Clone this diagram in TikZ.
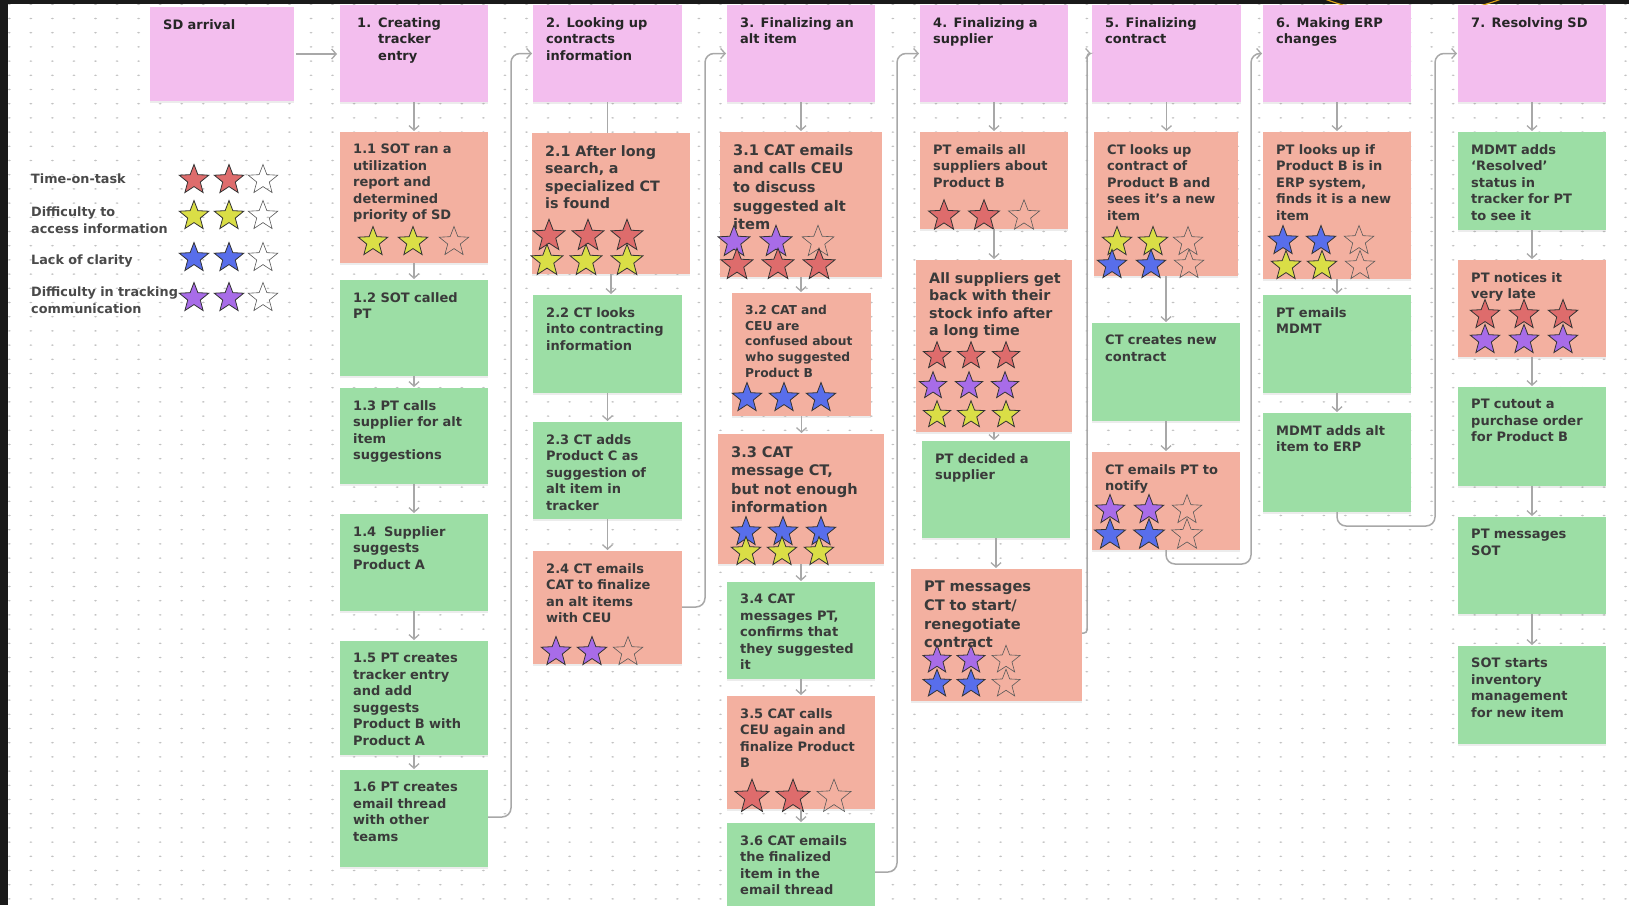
\documentclass[tikz,border=0pt]{standalone}
\usepackage{fontspec}
\setmainfont{DejaVu Sans}
\usetikzlibrary{arrows.meta,shadows}
\definecolor{pinkc}{HTML}{F3BEEE}
\definecolor{salc}{HTML}{F3B0A0}
\definecolor{grnc}{HTML}{9CDEA5}
\definecolor{txtc}{HTML}{3A3A3A}
\definecolor{legc}{HTML}{4A4A4A}
\definecolor{arrc}{HTML}{A8A8A8}
\definecolor{dotc}{HTML}{C2C2C2}
\definecolor{starr}{HTML}{DE6C6C}
\definecolor{stary}{HTML}{DADE46}
\definecolor{starb}{HTML}{586EEB}
\definecolor{starp}{HTML}{A86CE8}
\definecolor{darkc}{HTML}{1A1A1A}
\definecolor{ylw}{HTML}{D9A21B}

\newcommand\card[8]{%
  \node[box, fill=#6, minimum width={(#4-#2)*1pt}, minimum height={(#5-#3)*1pt}] (#1) at ({(#2+#4)/2},{(#3+#5)/2}) {};
  \node[#7] (#1t) at ([xshift=13pt,yshift=-12pt]#1.north west) {#8};
}
\newcommand\st[4][1]{\path[st#4,shift={(#2,#3)},scale=#1] (270:15.5)--(306:6.6)--(342:15.5)--(18:6.6)--(54:15.5)--(90:6.6)--(126:15.5)--(162:6.6)--(198:15.5)--(234:6.6)--cycle;}
\newcommand\dn[2]{\draw[arr] (#1.south) -- (#1.south |- #2.north);}

\begin{document}
\begin{tikzpicture}[x=1pt,y=-1pt,
  box/.style={draw=none, inner sep=0, outer sep=0, drop shadow={shadow xshift=0pt, shadow yshift=-2pt, opacity=0.15}},
  tn/.style={inner sep=0, text width=150pt, align=left, anchor=north west, text=txtc, font=\bfseries\fontsize{13}{16.5}\selectfont},
  tm/.style={tn, font=\bfseries\fontsize{14.3}{17.6}\selectfont},
  tl/.style={tn, font=\bfseries\fontsize{14.6}{18.6}\selectfont},
  ts/.style={tn, font=\bfseries\fontsize{12.3}{15.7}\selectfont},
  th/.style={tn, text=black!85},
  lgt/.style={inner sep=0, text width=160pt, align=left, anchor=north west, text=legc, font=\bfseries\fontsize{12.8}{16.5}\selectfont},
  str/.style={fill=starr, draw=black!80, line width=0.8pt, line join=miter},
  sty/.style={fill=stary, draw=black!80, line width=0.8pt, line join=miter},
  stb/.style={fill=starb, draw=black!80, line width=0.8pt, line join=miter},
  stp/.style={fill=starp, draw=black!80, line width=0.8pt, line join=miter},
  ste/.style={draw=black!65, line width=0.6pt, line join=miter},
  arr/.style={draw=arrc, line width=1.5pt, shorten >=1pt, -{Straight Barb[length=4.5pt,width=10pt,line width=1.3pt]}},
  ln/.style={draw=arrc, line width=1.5pt}
]
\useasboundingbox (0,0) rectangle (1629,905);
\fill[white] (0,0) rectangle (1629,905);
\foreach \i in {0,...,75} {\foreach \j in {0,...,63} {\fill[dotc] ({9.3+21.55*\i},{4.3+14.2*\j}) ellipse (1.5 and 0.8);}}
\fill[darkc] (0,0) rectangle (1629,4);
\fill[darkc] (0,0) rectangle (7.5,905);
\begin{scope}
\clip (0,0) rectangle (1629,4.5);
\draw[ylw, line width=1.2pt] (1413,-235) circle (250);
\end{scope}

% legend
\node[lgt] (lg1) at (31,174) {Time-on-task};
\node[lgt] (lg2) at (31,207) {Difficulty to\\access information};
\node[lgt] (lg3) at (31,255) {Lack of clarity};
\node[lgt] (lg4) at (31,287) {Difficulty in tracking\\communication};
\st{194}{180}{r}\st{229}{180}{r}\st{263}{180}{e}
\st{194}{216}{y}\st{229}{216}{y}\st{263}{216}{e}
\st{194}{258}{b}\st{229}{258}{b}\st{263}{258}{e}
\st{194}{298}{p}\st{229}{298}{p}\st{263}{298}{e}

% headers
\card{sd}{150}{7}{294}{101}{pinkc}{th}{SD arrival}
\card{h1}{340}{5}{488}{102}{pinkc}{th}{\hspace*{4pt}\makebox[21pt][l]{1.}Creating\\\hspace*{25pt}tracker\\\hspace*{25pt}entry}
\card{h2}{533}{5}{682}{102}{pinkc}{th}{2. Looking up\\contracts\\information}
\card{h3}{727}{5}{875}{102}{pinkc}{th}{3. Finalizing an\\alt item}
\card{h4}{920}{5}{1068}{102}{pinkc}{th}{4. Finalizing a\\supplier}
\card{h5}{1092}{5}{1241}{102}{pinkc}{th}{5. Finalizing\\contract}
\card{h6}{1263}{5}{1411}{102}{pinkc}{th}{6. Making ERP\\changes}
\card{h7}{1458}{5}{1606}{102}{pinkc}{th}{7. Resolving SD}

% column 1
\card{c11}{340}{132}{488}{263}{salc}{tn}{1.1 SOT ran a\\utilization\\report and\\determined\\priority of SD}
\card{c12}{340}{280}{488}{376}{grnc}{tn}{1.2 SOT called\\PT}
\card{c13}{340}{388}{488}{484}{grnc}{tn}{1.3 PT calls\\supplier for alt\\item\\suggestions}
\card{c14}{340}{514}{488}{611}{grnc}{tn}{1.4\hspace{0.6em}Supplier\\suggests\\Product A}
\card{c15}{340}{641}{488}{755}{grnc}{tn}{1.5 PT creates\\tracker entry\\and add\\suggests\\Product B with\\Product A}
\card{c16}{340}{770}{488}{867}{grnc}{tn}{1.6 PT creates\\email thread\\with other\\teams}
\st{373}{242}{y}\st{413}{242}{y}\st{454}{242}{e}

% column 2
\card{c21}{532}{133}{690}{274}{salc}{tm}{2.1 After long\\search, a\\specialized CT\\is found}
\card{c22}{533}{295}{682}{393}{grnc}{tn}{2.2 CT looks\\into contracting\\information}
\card{c23}{533}{422}{682}{519}{grnc}{tn}{2.3 CT adds\\Product C as\\suggestion of\\alt item in\\tracker}
\card{c24}{533}{551}{682}{664}{salc}{tn}{2.4 CT emails\\CAT to finalize\\an alt items\\with CEU}
\st[1.08]{549}{236}{r}\st[1.08]{588}{236}{r}\st[1.08]{627}{236}{r}
\st[1.08]{547}{261}{y}\st[1.08]{586}{261}{y}\st[1.08]{627}{261}{y}
\st{556}{652}{p}\st{592}{652}{p}\st{628}{652}{e}

% column 3
\card{c31}{720}{132}{882}{277}{salc}{tl}{3.1 CAT emails\\and calls CEU\\to discuss\\suggested alt\\item}
\card{c32}{732}{293}{871}{416}{salc}{ts}{3.2 CAT and\\CEU are\\confused about\\who suggested\\Product B}
\card{c33}{718}{434}{884}{564}{salc}{tl}{3.3 CAT\\message CT,\\but not enough\\information}
\card{c34}{727}{582}{875}{679}{grnc}{tn}{3.4 CAT\\messages PT,\\confirms that\\they suggested\\it}
\card{c35}{727}{696}{875}{809}{salc}{tn}{3.5 CAT calls\\CEU again and\\finalize Product\\B}
\card{c36}{727}{823}{875}{915}{grnc}{tn}{3.6 CAT emails\\the finalized\\item in the\\email thread}
\st[1.08]{734}{242}{p}\st[1.08]{776}{242}{p}\st[1.08]{818}{242}{e}
\st[1.08]{737}{265}{r}\st[1.08]{778}{265}{r}\st[1.08]{819}{265}{r}
\st{747}{398}{b}\st{784}{398}{b}\st{821}{398}{b}
\st{746}{532}{b}\st{783}{532}{b}\st{821}{532}{b}
\st{746}{552}{y}\st{782}{552}{y}\st{819}{552}{y}
\st[1.15]{752}{797}{r}\st[1.15]{793}{797}{r}\st[1.15]{834}{797}{e}

% column 4
\card{c41}{920}{132}{1068}{229}{salc}{tn}{PT emails all\\suppliers about\\Product B}
\card{c42}{916}{260}{1072}{432}{salc}{tm}{All suppliers get\\back with their\\stock info after\\a long time}
\card{c43}{922}{441}{1070}{538}{grnc}{tn}{PT decided a\\supplier}
\card{c44}{911}{569}{1082}{701}{salc}{tl}{PT messages\\CT to start/\\renegotiate\\contract}
\st[1.05]{944}{216}{r}\st[1.05]{984}{216}{r}\st[1.05]{1024}{216}{e}
\st[0.92]{937}{356}{r}\st[0.92]{971}{356}{r}\st[0.92]{1006}{356}{r}
\st[0.92]{933}{386}{p}\st[0.92]{969}{386}{p}\st[0.92]{1005}{386}{p}
\st[0.92]{937}{415}{y}\st[0.92]{971}{415}{y}\st[0.92]{1006}{415}{y}
\st[0.95]{937}{660}{p}\st[0.95]{971}{660}{p}\st[0.95]{1006}{660}{e}
\st[0.95]{937}{684}{b}\st[0.95]{971}{684}{b}\st[0.95]{1006}{684}{e}

% column 5
\card{c51}{1094}{132}{1238}{276}{salc}{tn}{CT looks up\\contract of\\Product B and\\sees it’s a new\\item}
\card{c52}{1092}{323}{1240}{421}{grnc}{tn}{CT creates new\\contract}
\card{c53}{1092}{452}{1240}{550}{salc}{tn}{CT emails PT to\\notify}
\st{1117}{242}{y}\st{1153}{242}{y}\st{1188}{242}{e}
\st{1112}{265}{b}\st{1151}{265}{b}\st{1189}{265}{e}
\st{1110}{510}{p}\st{1149}{510}{p}\st{1187}{510}{e}
\st[1.05]{1110}{535}{b}\st[1.05]{1149}{535}{b}\st[1.05]{1187}{535}{e}

% column 6
\card{c61}{1263}{132}{1411}{279}{salc}{tn}{PT looks up if\\Product B is in\\ERP system,\\finds it is a new\\item}
\card{c62}{1263}{295}{1411}{393}{grnc}{tn}{PT emails\\MDMT}
\card{c63}{1263}{413}{1411}{512}{grnc}{tn}{MDMT adds alt\\item to ERP}
\st{1283}{241}{b}\st{1321}{241}{b}\st{1359}{241}{e}
\st{1286}{266}{y}\st{1322}{266}{y}\st{1360}{266}{e}

% column 7
\card{c71}{1458}{132}{1606}{230}{grnc}{tn}{MDMT adds\\‘Resolved’\\status in\\tracker for PT\\to see it}
\card{c72}{1458}{260}{1606}{357}{salc}{tn}{PT notices it\\very late}
\card{c73}{1458}{387}{1606}{486}{grnc}{tn}{PT cutout a\\purchase order\\for Product B}
\card{c74}{1458}{517}{1606}{614}{grnc}{tn}{PT messages\\SOT}
\card{c75}{1458}{646}{1606}{744}{grnc}{tn}{SOT starts\\inventory\\management\\for new item}
\st{1485}{315}{r}\st{1524}{315}{r}\st{1563}{315}{r}
\st{1485}{340}{p}\st{1524}{340}{p}\st{1563}{340}{p}

% vertical connectors
\draw[arr] ([xshift=2pt]sd.east) -- ([xshift=-2pt]h1.west |- sd.east);
\dn{h1}{c11}\dn{c11}{c12}\dn{c12}{c13}\dn{c13}{c14}\dn{c14}{c15}\dn{c15}{c16}
\draw[ln] (h2.south) -- (h2.south |- c21.north);
\dn{c21}{c22}\dn{c22}{c23}\dn{c23}{c24}
\dn{h3}{c31}\dn{c31}{c32}\dn{c32}{c33}\dn{c33}{c34}\dn{c34}{c35}\dn{c35}{c36}
\dn{h4}{c41}\dn{c41}{c42}\dn{c42}{c43}\dn{c43}{c44}
\dn{h5}{c51}\dn{c51}{c52}\dn{c52}{c53}
\dn{h6}{c61}\dn{c61}{c62}\dn{c62}{c63}
\dn{h7}{c71}\dn{c71}{c72}\dn{c72}{c73}\dn{c73}{c74}\dn{c74}{c75}

% column-to-column connectors
\coordinate (k1) at (511,817);
\coordinate (k2) at (705,607);
\coordinate (k3) at (897,872);
\coordinate (k4) at (1087,633);
\coordinate (k5a) at (1166,564);
\coordinate (k5b) at (1251,564);
\coordinate (k6a) at (1337,526);
\coordinate (k6b) at (1435,526);
\draw[arr, rounded corners=9pt] (c16.east |- k1) -- (k1) -- (k1 |- h2.west) -- (h2.west);
\draw[arr, rounded corners=9pt] (c24.east |- k2) -- (k2) -- (k2 |- h3.west) -- (h3.west);
\draw[arr, rounded corners=9pt] (c36.east |- k3) -- (k3) -- (k3 |- h4.west) -- (h4.west);
\draw[arr, rounded corners=3pt] (c44.east |- k4) -- (k4) -- (k4 |- h5.west) -- (h5.west);
\draw[arr, rounded corners=9pt] (c53.south) -- (k5a) -- (k5b) -- (k5b |- h6.west) -- (h6.west);
\draw[arr, rounded corners=9pt] (c63.south) -- (k6a) -- (k6b) -- (k6b |- h7.west) -- (h7.west);
\end{tikzpicture}
\end{document}
